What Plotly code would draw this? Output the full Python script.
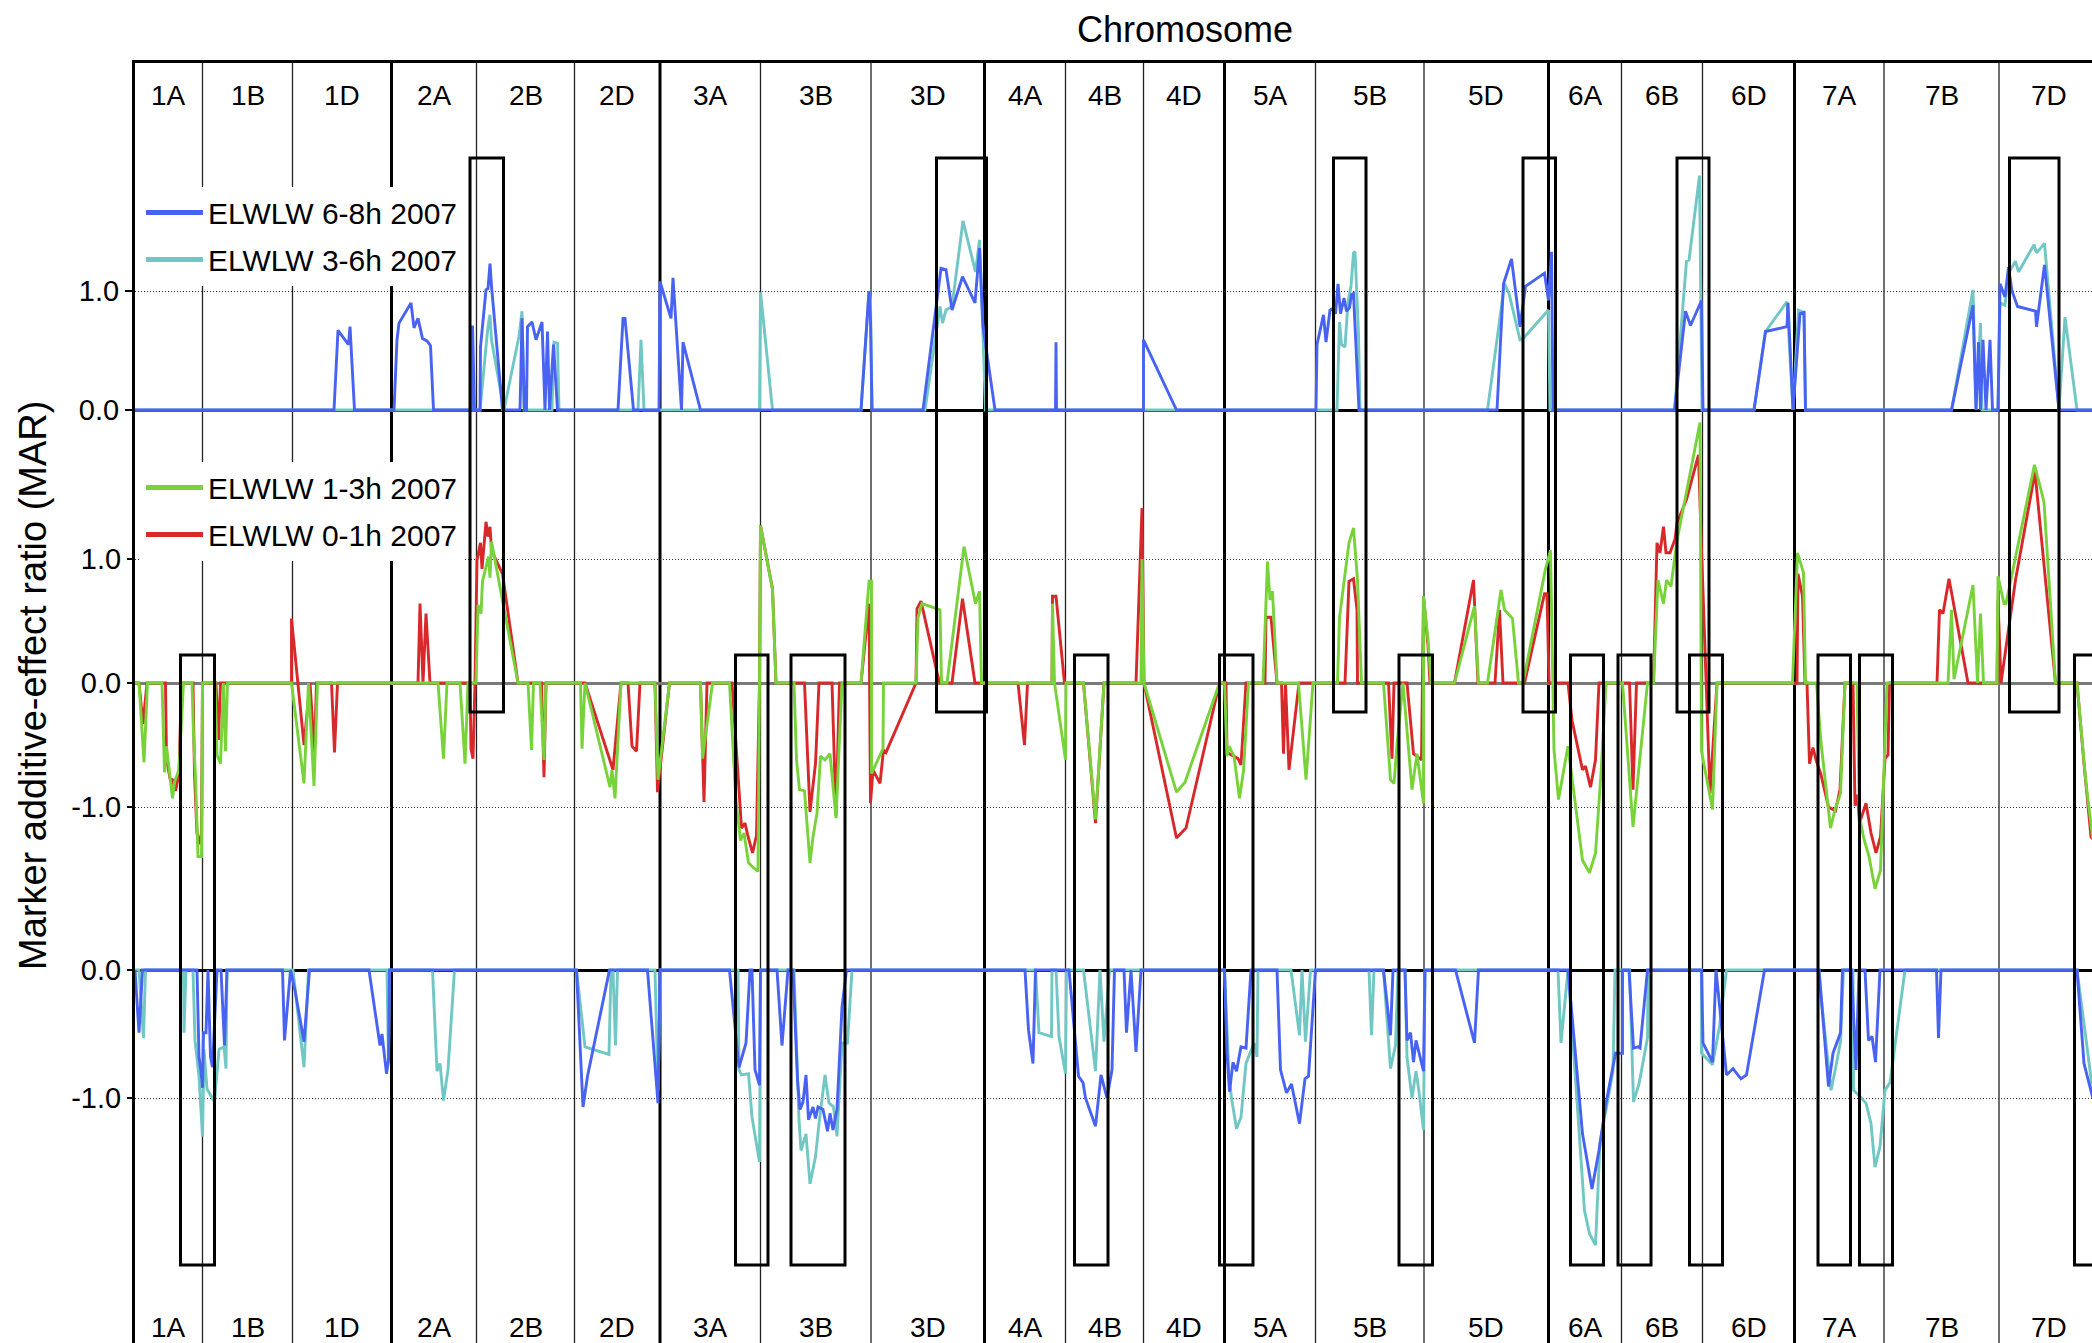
import plotly.graph_objects as go

# ---------------------------------------------------------------- data ----
CHROMS = ["1A", "1B", "1D", "2A", "2B", "2D", "3A", "3B", "3D", "4A", "4B",
          "4D", "5A", "5B", "5D", "6A", "6B", "6D", "7A", "7B", "7D"]
# chromosome lengths (cM) laid end to end along the genome axis
CHROM_LEN = [67.5, 90, 99, 85, 98, 85.5, 100.5, 110.5, 113.5, 81, 78,
             81, 91, 108.5, 124.5, 73, 81, 92, 89.5, 115, 99]

# (genome position cM, MAR) — positive effects, ELWLW 6-8h 2007
pos_6_8h = [
    (0, 0), (199, 0), (203, 0.67), (213.5, 0.55), (215, 0.70), (219.5, 0),
    (259, 0), (262, 0.59), (264, 0.73), (276, 0.90), (279, 0.69), (283, 0.77), (287.5, 0.60),
    (292, 0.58), (295.5, 0.54), (298.5, 0),
    (336.5, 0), (337.5, 0.71), (339.5, 0), (345, 0), (345.5, 0.53), (351, 1.01), (353, 1.02),
    (355, 1.23), (356.5, 1.04), (367.5, 0),
    (385, 0), (387, 0.77), (389.5, 0), (391.5, 0), (392.5, 0.70), (397, 0.74), (401, 0.59),
    (407, 0.74), (410, 0), (412.5, 0.66), (414.5, 0), (418.5, 0.55), (422.5, 0),
    (483, 0), (488, 0.77), (490, 0.77), (498.5, 0),
    (524, 0), (525, 1.08), (536, 0.77), (538, 1.11), (546.5, 0), (548, 0.57), (565.5, 0),
    (726, 0), (734, 1.00), (735.5, 0.76), (737, 0),
    (788, 0), (806, 1.19), (811, 1.18), (817, 0.84), (827.5, 1.12), (840, 0.90), (844.5, 1.36),
    (846.5, 0.98), (848, 0.70), (860, 0),
    (920.5, 0), (921, 0.57), (921.5, 0),
    (1008.5, 0), (1008.5, 0.59), (1041.5, 0),
    (1181, 0), (1182, 0.55), (1188.5, 0.80), (1191, 0.57), (1195, 0.84), (1197, 0.85),
    (1200.5, 0.81), (1203, 1.06), (1205.5, 0.81), (1209, 0.94), (1211.5, 0.83), (1214.5, 0.86),
    (1216.5, 0.97), (1218.5, 0.98), (1224, 0),
    (1362, 0), (1368.5, 1.06), (1376.5, 1.27), (1385, 0.70), (1390.5, 1.04), (1409.5, 1.15),
    (1413.5, 0.92), (1416.5, 1.33), (1418, 0),
    (1539.5, 0), (1550.5, 0.83), (1555.5, 0.71), (1566.5, 0.92), (1568, 0),
    (1619, 0), (1630.5, 0.66), (1652, 0.70), (1653, 0.90), (1658, 0), (1665, 0.81), (1669, 0.82),
    (1670.5, 0),
    (1816.5, 0), (1838, 0.88), (1841, 0), (1843.5, 0.57), (1845.5, 0), (1848, 0.59), (1851, 0),
    (1855, 0.59), (1857.5, 0),
    (1863, 0), (1865, 1.06), (1870, 0.95), (1873.5, 1.20), (1877, 1.00), (1882.5, 0.87),
    (1900.5, 0.83), (1901.5, 0.70), (1909.5, 1.22), (1924, 0),
    (1963, 0),
]

# positive effects, ELWLW 3-6h 2007
pos_3_6h = [
    (0, 0), (345, 0), (351, 0.53), (353, 0.70), (355, 0.80), (356.5, 0.59), (369, 0),
    (384, 0.62), (387, 0.83), (389, 0),
    (417, 0), (419, 0.57), (422.5, 0.56), (424, 0),
    (503, 0), (506, 0.59), (509, 0),
    (624.5, 0), (625.5, 0.99), (637.5, 0),
    (726, 0), (734, 1.00), (735.5, 0.92), (737, 0),
    (790, 0), (805, 0.87), (807.5, 0.73), (811, 0.84), (817, 0.87), (828, 1.59), (840.5, 1.16),
    (844.5, 1.43), (848, 0.64), (850.5, 0),
    (1202, 0), (1204.5, 0.74), (1206.5, 0.55), (1210, 0.53), (1213, 0.91), (1216, 1.04),
    (1218.5, 1.32), (1220, 1.33), (1223.5, 0.64), (1225, 0),
    (1352.5, 0), (1369.5, 1.06), (1374, 0.98), (1385, 0.59), (1388, 0.60), (1413.5, 0.84),
    (1415, 0),
    (1539.5, 0), (1551.5, 1.25), (1554, 1.26), (1564.5, 1.97), (1567, 0),
    (1619, 0), (1630.5, 0.66), (1652, 0.91), (1654, 0.60), (1658, 0), (1663.5, 0.84),
    (1669, 0.82), (1670.5, 0),
    (1816.5, 0), (1838, 1.01), (1841, 0), (1845.5, 0.73), (1847, 0),
    (1863, 0), (1865, 0.90), (1870, 0.88), (1873.5, 1.15), (1880.5, 1.25), (1883.5, 1.16),
    (1899, 1.39), (1901.5, 1.32), (1909.5, 1.40), (1924, 0), (1930, 0.78), (1942, 0),
    (1963, 0),
]

# ELWLW 1-3h 2007 (both signs)
mar_1_3h = [
    (0, 0), (4, 0), (9, -0.64), (12.5, 0),
    (27, 0), (29.5, -0.72), (31.5, -0.51), (37.5, -0.93), (39.5, -0.80), (44, -0.70), (48.5, 0),
    (57, 0), (58.5, -0.41), (60.5, -0.76), (63, -1.40), (66.5, -1.40), (67.5, 0),
    (80, 0), (82, -0.58), (85.5, -0.65), (88.5, 0), (90.5, -0.55), (92.5, 0),
    (156.5, 0), (169, -0.81), (173.5, 0), (179, -0.83), (182.5, 0),
    (303, 0), (308.5, -0.61), (312, 0),
    (325, 0), (330, -0.65), (333, 0),
    (341, 0), (343, 0.63), (346, 0.56), (347.5, 0.82), (353.5, 1.02), (355, 0.85),
    (356.5, 1.14), (383, 0),
    (393, 0), (396.5, -0.54), (398.5, 0),
    (405, 0), (409, -0.62), (411, 0),
    (445.5, 0), (447, -0.53), (450, 0), (475, -0.84), (477, -0.70), (480, -0.93), (486, 0),
    (520, 0), (523, -0.78), (534.5, 0),
    (565.5, 0), (567.5, -0.61), (577.5, 0),
    (594.5, 0), (601, -0.95), (605.5, -1.27), (609, -1.21), (613.5, -1.45), (618.5, -1.49),
    (623, -1.52), (624.5, 0), (625.5, 1.27), (637.5, 0.75), (641, 0),
    (659, 0), (661.5, -0.62), (664.5, -0.86), (669.5, -0.87), (675, -1.45), (678, -1.24),
    (682, -1.05), (685.5, -0.59), (690, -0.62), (695, -0.57), (701, -1.09), (707, 0),
    (726, 0), (734, 0.82), (736.5, 0.82), (736.5, -0.73), (748, -0.53), (748.5, 0),
    (781, 0), (783, 0.53), (787, 0.64), (805, 0.59), (806.5, 0), (812, 0), (829, 1.10),
    (840.5, 0.64), (844.5, 0.74), (846.5, 0),
    (917, 0), (917.5, 0.64), (919.5, 0), (930.5, -0.62), (931, 0),
    (948.5, 0), (960.5, -1.10), (969, 0),
    (1006, 0), (1007, 1.00), (1009, 0), (1041.5, -0.88), (1050, -0.80), (1084.5, 0),
    (1089.5, 0), (1092, -0.59), (1094, -0.51), (1099, -0.59), (1104.5, -0.93), (1108.5, -0.71),
    (1113.5, 0),
    (1128, 0), (1132.5, 0.98), (1135, 0.67), (1137.5, 0.74), (1142, 0),
    (1163.5, 0), (1171, -0.78), (1178, 0),
    (1202.5, 0), (1204.5, 0.53), (1206.5, 0.65), (1214, 1.13), (1218.5, 1.25), (1222.5, 0.83),
    (1226.5, 0),
    (1248.5, 0), (1255.5, -0.78), (1259, -0.81), (1262, -0.50), (1268, 0), (1277, -0.86),
    (1282, -0.57), (1288.5, -0.97), (1288.5, 0.70), (1293, 0.35), (1296, 0),
    (1319.5, 0), (1339.5, 0.62), (1343.5, 0),
    (1352.5, 0), (1366, 0.75), (1369.5, 0.59), (1377.5, 0.52), (1383.5, 0),
    (1388, 0), (1410.5, 0.92), (1415.5, 1.07), (1418, 0), (1419, -0.54), (1423.5, -0.94),
    (1433, -0.51), (1447.5, -1.43), (1454.5, -1.53), (1460.5, -1.37), (1466, -0.73), (1471, 0),
    (1487.5, 0), (1498, -1.16), (1512.5, 0),
    (1518.5, 0), (1523, 0.83), (1528.5, 0.64), (1531.5, 0.83), (1536, 0.78), (1542, 1.15),
    (1551.5, 1.54), (1565, 2.10), (1566.5, -0.55), (1577.5, -1.02), (1582, 0),
    (1657.5, 0), (1662.5, 1.05), (1668.5, 0.89), (1670.5, 0),
    (1681.5, 0), (1686, -0.48), (1695.5, -1.17), (1700, -1.02), (1705.5, -0.89), (1710, 0),
    (1722, 0), (1724.5, -1.08), (1729, -1.26), (1734, -1.40), (1740, -1.66), (1745.5, -1.51),
    (1749, -0.73), (1752, 0),
    (1813, 0), (1816.5, 0.59), (1819, 0.03), (1838, 0.79), (1842.5, 0), (1845.5, 0.56),
    (1848.5, 0),
    (1862, 0), (1863, 0.86), (1869, 0.64), (1871, 0.64), (1899.5, 1.76), (1909, 1.46),
    (1920.5, 0),
    (1942, 0), (1951, -0.81), (1957.5, -1.24), (1963, -1.30),
]

# ELWLW 0-1h 2007 (both signs)
mar_0_1h = [
    (0, 0), (4, 0), (8, -0.33), (12, 0),
    (30.5, 0), (31.5, -0.61), (35, -0.77), (37.5, -0.78), (40.5, -0.87), (44, -0.73), (46.5, 0),
    (58, 0), (59.5, -0.74), (62, -1.21), (64, -1.30), (66.5, -1.21), (67.5, 0),
    (81, 0), (83.5, -0.46), (85.5, 0),
    (156.5, 0), (156.5, 0.52), (169, -0.50), (175, 0), (179.5, -0.56), (181.5, 0),
    (196.5, 0), (199.5, -0.56), (202.5, 0),
    (283, 0), (285, 0.64), (288, 0), (291, 0.56), (295, 0),
    (335, 0), (336, -0.53), (338, -0.61), (340, 0), (342, 0.99), (345.5, 1.13), (347, 0.92),
    (351, 1.30), (353, 1.18), (355, 1.26), (356.5, 1.07), (367.5, 0.88), (383, 0),
    (406.5, 0), (409, -0.76), (411, 0),
    (450, 0), (475, -0.61), (478, -0.70), (486, 0),
    (493, 0), (497, -0.51), (501.5, -0.55), (505, 0),
    (520, 0), (522.5, -0.88), (534.5, 0),
    (565.5, 0), (569, -0.96), (572, 0),
    (597, 0), (606.5, -1.17), (610, -1.13), (612.5, -1.22), (617.5, -1.37), (621.5, -1.23),
    (624.5, 0), (625.5, 1.27), (637.5, 0.76), (641, 0),
    (669.5, 0), (675, -1.04), (680.5, -0.65), (684, 0),
    (697, 0), (701, -1.07), (704.5, 0),
    (726, 0), (734, 0.64), (735.5, -0.97), (738, -0.70), (745, -0.81), (748.5, -0.54),
    (751, -0.56), (781, 0), (782, 0.60), (786, 0.66), (803, 0.05), (805, 0),
    (817, 0), (827.5, 0.68), (840, 0),
    (883, 0), (889.5, -0.50), (892.5, 0),
    (917, 0), (917.5, 0.70), (921, 0.70), (929.5, 0),
    (948.5, 0), (960.5, -1.13), (969, 0),
    (1001, 0), (1007, 1.41), (1009, 0), (1041.5, -1.25), (1051, -1.17), (1084.5, 0),
    (1091, 0), (1092, -0.56), (1103, -0.61), (1106, -0.66), (1111, 0),
    (1130, 0), (1131, 0.53), (1136, 0.53), (1142, 0),
    (1146.5, 0), (1148.5, -0.57), (1150.5, 0), (1154, -0.70), (1164, 0),
    (1210, 0), (1214, 0.82), (1218.5, 0.84), (1222, 0.59), (1222.5, 0),
    (1253.5, 0), (1257, -0.61), (1259, 0),
    (1272, 0), (1278.5, -0.57), (1286.5, -0.62), (1288.5, 0.70), (1293, 0.30), (1295, 0),
    (1319.5, 0), (1338.5, 0.83), (1343, 0),
    (1360, 0), (1364.5, 0.59), (1368, 0),
    (1389.5, 0), (1409.5, 0.72), (1412, 0.72), (1414, 0),
    (1433, 0), (1437, -0.30), (1447.5, -0.70), (1450.5, -0.67), (1455.5, -0.84),
    (1460.5, -0.62), (1464, 0),
    (1494.5, 0), (1498, -0.86), (1501.5, 0),
    (1518.5, 0), (1522, 1.13), (1525, 1.05), (1528.5, 1.26), (1531, 1.05), (1535, 1.05),
    (1540, 1.16), (1542, 1.29), (1551.5, 1.48), (1563.5, 1.84), (1566, 1.20), (1575, -0.89),
    (1582, 0),
    (1662, 0), (1663, 0.88), (1667.5, 0.70), (1670, 0), (1672, 0), (1674.5, -0.65),
    (1678, -0.52), (1681, -0.62), (1686, -0.74), (1693.5, -1.00), (1700.5, -1.03),
    (1705, -0.86), (1710, 0),
    (1718, 0), (1720, -0.99), (1722.5, -0.90), (1724.5, -1.13), (1731, -0.97), (1736, -1.21),
    (1741, -1.37), (1745.5, -1.24), (1750, -0.61), (1753, -0.58), (1754.5, 0),
    (1802, 0), (1804.5, 0.59), (1808, 0.56), (1814, 0.84), (1833, 0),
    (1862, 0), (1863, 0.67), (1866, 0), (1880.5, 0.83), (1900, 1.70), (1920.5, 0),
    (1942, 0), (1949, -0.65), (1956, -1.24), (1963, -1.30),
]

# negative effects, ELWLW 6-8h 2007 (lower panel)
neg_6_8h = [
    (0, 0), (4, -0.49), (7.5, 0),
    (62, 0), (64, -0.68), (66, -0.79), (67.5, -0.92), (68.5, -0.49), (71, -0.49), (73, 0),
    (75.5, -0.68), (77.5, -0.76), (82, 0), (86, 0), (89.5, -0.59), (92, 0),
    (147.5, 0), (149.5, -0.55), (155.5, 0), (160, -0.16), (169, -0.56), (174.5, 0),
    (234, 0), (245, -0.59), (247, -0.50), (248.5, -0.60), (251.5, -0.81), (253.5, -0.70),
    (254.5, 0),
    (441.5, 0), (448, -1.07), (452.5, -0.83), (474.5, 0),
    (512.5, 0), (521.5, -0.96), (523, -1.04), (525, 0),
    (594.5, 0), (599, -0.36), (604, -0.76), (611, -0.57), (615, 0), (617, 0), (620, -0.78),
    (624.5, -0.90), (625.5, 0),
    (642, 0), (647, -0.59), (653, 0),
    (658, 0), (662.5, -0.86), (665, -1.09), (668, -1.03), (671, -0.82), (673.5, -1.17),
    (678, -1.07), (680.5, -1.16), (683, -1.07), (688, -1.09), (692.5, -1.26), (695, -1.12),
    (698, -1.25), (702, -1.09), (707, -0.29), (711.5, 0),
    (890, 0), (893.5, -0.47), (898, -0.73), (900.5, 0),
    (934, 0), (943.5, -0.83), (948, -0.88), (950.5, -1.00), (960.5, -1.22), (966, -0.82),
    (972, -1.00), (977, -0.78), (979.5, 0), (989, 0), (991.5, -0.49), (996, 0), (1001, -0.64),
    (1006, 0),
    (1089.5, 0), (1092, -0.65), (1094.5, -0.95), (1098, -0.72), (1101.5, -0.79),
    (1106, -0.60), (1111, -0.61), (1116, 0),
    (1142, 0), (1145.5, -0.78), (1151.5, -0.96), (1156.5, -0.89), (1164.5, -1.20),
    (1170, -0.85), (1173.5, -0.83), (1180.5, 0),
    (1248.5, 0), (1255.5, -0.51), (1258, 0),
    (1270, 0), (1272, -0.55), (1275.5, -0.49), (1278.5, -0.72), (1281, -0.55),
    (1288.5, -0.79), (1290, 0),
    (1320.5, 0), (1339.5, -0.57), (1343.5, 0),
    (1433, 0), (1447.5, -1.28), (1457, -1.71), (1464, -1.41), (1471, -1.04), (1478, -0.73),
    (1480.5, -0.65), (1487.5, -0.65), (1487.5, 0),
    (1494, 0), (1498.5, -0.61), (1503, -0.60), (1505, -0.61), (1512.5, 0),
    (1566.5, 0), (1568, -0.57), (1577.5, -0.72), (1581, 0), (1591.5, -0.82), (1598, -0.77),
    (1606, -0.85), (1611.5, -0.82), (1629.5, 0),
    (1684, 0), (1693.5, -0.91), (1698, -0.65), (1705.5, -0.49), (1707.5, 0),
    (1716.5, 0), (1721, -0.78), (1724, 0),
    (1730, 0), (1733.5, -0.55), (1737, -0.52), (1740.5, -0.72), (1745, 0),
    (1801.5, 0), (1803.5, -0.53), (1806, 0),
    (1942, 0), (1949, -0.73), (1957.5, -0.99), (1963, -1.00),
]

# negative effects, ELWLW 3-6h 2007
neg_3_6h = [
    (0, 0), (4, 0), (8.5, -0.53), (10.5, 0),
    (48.5, 0), (49, -0.49), (51, 0), (58, 0), (60, -0.55), (64, -0.83), (67.5, -1.30),
    (69, -0.62), (72, -0.93), (79.5, -1.03), (84, -0.62), (89, -0.60), (91, -0.77), (92, 0),
    (158, 0), (169, -0.76), (173.5, 0),
    (236, 0), (252, 0), (253.5, -0.73), (254.5, 0),
    (297.5, 0), (302, -0.79), (305, -0.73), (308.5, -1.02), (313, -0.78), (319.5, 0),
    (441.5, 0), (450, -0.60), (474, -0.66), (476, 0), (478, 0), (480.5, -0.59), (482.5, 0),
    (520, 0), (523, -0.94), (525.5, 0),
    (603, 0), (604, -0.78), (606.5, -0.82), (613.5, -0.81), (617, -1.15), (624.5, -1.50),
    (625.5, 0),
    (659, 0), (664, -1.17), (666, -1.41), (671, -1.28), (675, -1.67), (680.5, -1.46),
    (684, -1.20), (690, -0.82), (694, -1.04), (698.5, -1.07), (702, -1.30), (707, -0.57),
    (712.5, -0.57), (717, 0),
    (900.5, 0), (904, -0.49), (908, -0.50), (916.5, -0.52), (917, 0), (921, 0), (924, -0.52),
    (930.5, -0.81), (931.5, 0),
    (948.5, 0), (960.5, -0.79), (965, 0), (969, -0.56), (974.5, 0),
    (1089.5, 0), (1094, -0.83), (1096.5, -1.00), (1101.5, -1.24), (1106, -1.15),
    (1111, -0.73), (1119, -0.57), (1122, -0.68), (1123, 0),
    (1156, 0), (1164.5, -0.51), (1167, 0), (1170.5, -0.56), (1175.5, 0),
    (1234, 0), (1236.5, -0.51), (1239, 0),
    (1248.5, 0), (1255.5, -0.77), (1258, -0.68), (1260.5, -0.59), (1263, 0),
    (1270, 0), (1272, -0.68), (1277, -1.00), (1281, -0.79), (1284, -0.95), (1288.5, -1.25),
    (1290, 0),
    (1423, 0), (1426, -0.57), (1433, 0), (1449.5, -1.88), (1454.5, -2.06), (1460.5, -2.15),
    (1465, -1.35), (1478, -0.79), (1480, 0),
    (1494.5, 0), (1498.5, -1.03), (1504, -0.89), (1512.5, -0.53), (1513, 0),
    (1566.5, 0), (1566.5, -0.65), (1577.5, -0.74), (1584.5, -0.44), (1591.5, 0),
    (1684, 0), (1686, -0.20), (1696, -0.94), (1701, -0.75), (1705.5, -0.56), (1708.5, 0),
    (1718, 0), (1718.5, -0.94), (1724, -0.98), (1731, -1.04), (1736, -1.20), (1740, -1.54),
    (1745, -1.38), (1750, -0.94), (1755, -0.88), (1770, 0),
    (1942, 0), (1952, -0.60), (1957.5, -0.94), (1963, -0.95),
]

# highlighted QTL intervals (genome position, cM)
QTL_UP = [(335, 368.5), (801.5, 851.5), (1198.5, 1231), (1388, 1420.5),
          (1542, 1574), (1874.5, 1924)]
QTL_DOWN = [(45.5, 79.5), (600.5, 633), (656, 710), (939.5, 973), (1084.5, 1118),
            (1264, 1297.5), (1435.5, 1468.5), (1483, 1516), (1554.5, 1587.5),
            (1683, 1715.5), (1724.5, 1757.5), (1939.5, 1985)]

LABEL_6_8 = "ELWLW 6-8h 2007"
LABEL_3_6 = "ELWLW 3-6h 2007"
LABEL_1_3 = "ELWLW 1-3h 2007"
LABEL_0_1 = "ELWLW 0-1h 2007"

BLUE = "#4862f2"
TEAL = "#71c7c3"
GREEN = "#78d23a"
RED = "#d8282a"

# -------------------------------------------------------------- layout ----
W, H = 2092, 1343
ML, MT = 135, 63
PLOT_W, PLOT_H = W - ML, H - MT
FONT = "Liberation Sans, Arial, Helvetica, sans-serif"


def axis_range(zero_px, px_per_unit):
    return [-(H - zero_px) / px_per_unit, (zero_px - MT) / px_per_unit]


def paper_y(px):
    return (H - px) / PLOT_H


def paper_x(px):
    return (px - ML) / PLOT_W


def trace(pairs, color, yaxis):
    return go.Scatter(x=[p[0] for p in pairs], y=[p[1] for p in pairs],
                      mode="lines", line=dict(color=color, width=2.9),
                      yaxis=yaxis, showlegend=False, hoverinfo="skip")


fig = go.Figure()
fig.add_trace(trace(pos_3_6h, TEAL, "y"))
fig.add_trace(trace(pos_6_8h, BLUE, "y"))
fig.add_trace(trace(mar_0_1h, RED, "y2"))
fig.add_trace(trace(mar_1_3h, GREEN, "y2"))
fig.add_trace(trace(neg_3_6h, TEAL, "y3"))
fig.add_trace(trace(neg_6_8h, BLUE, "y3"))

# legend keys
for name, color, leg in [(LABEL_6_8, BLUE, "legend"), (LABEL_3_6, TEAL, "legend"),
                         (LABEL_1_3, GREEN, "legend2"), (LABEL_0_1, RED, "legend2")]:
    fig.add_trace(go.Scatter(x=[None], y=[None], mode="lines", name=name,
                             line=dict(color=color, width=5), legend=leg,
                             legendgroup=name, showlegend=True))

starts = [sum(CHROM_LEN[:i]) for i in range(len(CHROMS))]
shapes = []
annotations = []

# chromosome boundaries: heavy lines between homoeologous groups
for i in range(1, len(CHROMS)):
    heavy = CHROMS[i][0] != CHROMS[i - 1][0]
    shapes.append(dict(type="line", xref="x", yref="paper", x0=starts[i], x1=starts[i],
                       y0=0, y1=1, layer="below",
                       line=dict(color="black" if heavy else "#222222",
                                 width=3 if heavy else 1.3)))

# QTL boxes
for a, b in QTL_UP:
    shapes.append(dict(type="rect", xref="x", yref="paper", x0=a, x1=b,
                       y0=paper_y(712), y1=paper_y(158), layer="above",
                       line=dict(color="black", width=3), fillcolor="rgba(0,0,0,0)"))
for a, b in QTL_DOWN:
    shapes.append(dict(type="rect", xref="x", yref="paper", x0=a, x1=b,
                       y0=paper_y(1265), y1=paper_y(655), layer="above",
                       line=dict(color="black", width=3), fillcolor="rgba(0,0,0,0)"))

# chromosome names at top and bottom
for name, s, L in zip(CHROMS, starts, CHROM_LEN):
    for ypx in (95, 1327):
        annotations.append(dict(text=name, x=s + L / 2, xref="x", y=paper_y(ypx),
                                yref="paper", showarrow=False, xanchor="center",
                                yanchor="middle", font=dict(size=28, color="black")))

annotations.append(dict(text="Marker additive-effect ratio (MAR)", textangle=-90,
                        x=paper_x(33), xref="paper", y=paper_y(686), yref="paper",
                        showarrow=False, xanchor="center", yanchor="middle",
                        font=dict(size=38, color="black")))

common_y = dict(domain=[0, 1], anchor="x", side="left", showgrid=True,
                gridcolor="#333333", gridwidth=1, griddash="1px,2px",
                zeroline=True, zerolinewidth=3, ticks="outside", ticklen=7,
                tickwidth=1.5, tickcolor="black", tickfont=dict(size=29),
                automargin=False, fixedrange=True)

fig.update_layout(
    width=W, height=H,
    margin=dict(l=ML, r=0, t=MT, b=0, pad=0, autoexpand=False),
    plot_bgcolor="white", paper_bgcolor="white",
    font=dict(family=FONT, size=29, color="black"),
    title=dict(text="Chromosome", x=paper_x(1185), xref="paper", xanchor="center",
               y=1 - 29 / H, yref="container", yanchor="middle",
               font=dict(size=36, color="black")),
    xaxis=dict(range=[0, PLOT_W], showgrid=False, zeroline=False, showticklabels=False,
               ticks="", showline=True, mirror=True, linecolor="black", linewidth=3,
               fixedrange=True, automargin=False),
    yaxis=dict(range=axis_range(410, 119), tickvals=[0, 1], ticktext=["0.0", "1.0"],
               zerolinecolor="black", showline=True, linecolor="black", linewidth=3,
               **common_y),
    yaxis2=dict(range=axis_range(683, 124), tickvals=[-1, 0, 1],
                ticktext=["-1.0", "0.0", "1.0"], overlaying="y",
                zerolinecolor="#7a7a7a", showline=False, **common_y),
    yaxis3=dict(range=axis_range(970, 128), tickvals=[-1, 0], ticktext=["-1.0", "0.0"],
                overlaying="y", zerolinecolor="black", showline=False, **common_y),
    legend=dict(x=paper_x(141), xanchor="left", y=paper_y(236), yanchor="middle",
                bgcolor="white", borderwidth=0, itemwidth=57, tracegroupgap=5,
                traceorder="grouped", font=dict(size=30, color="black")),
    legend2=dict(x=paper_x(141), xanchor="left", y=paper_y(511), yanchor="middle",
                 bgcolor="white", borderwidth=0, itemwidth=57, tracegroupgap=5,
                 traceorder="grouped", font=dict(size=30, color="black")),
    shapes=shapes,
    annotations=annotations,
    hovermode=False,
)

fig.write_html("out.html")
